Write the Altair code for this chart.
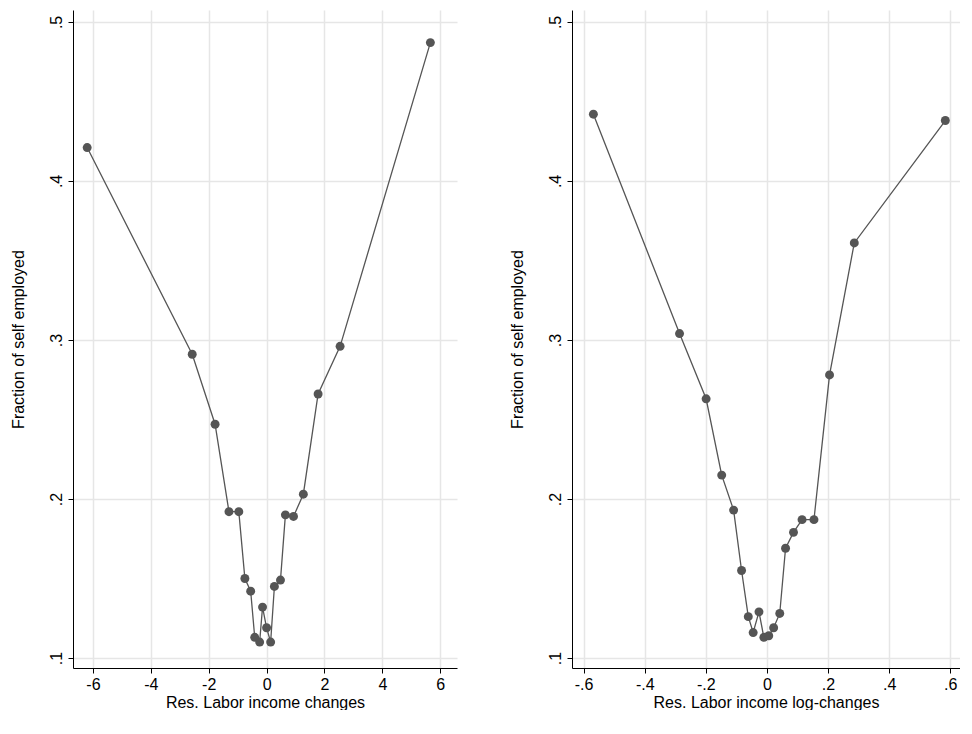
import altair as alt
import pandas as pd

x_lev = [-6.2, -2.57, -1.78, -1.30, -0.96, -0.75, -0.55, -0.41, -0.24, -0.14, 0.0,
         0.14, 0.27, 0.48, 0.65, 0.93, 1.27, 1.78, 2.54, 5.66]
y_lev = [0.421, 0.291, 0.247, 0.192, 0.192, 0.150, 0.142, 0.113, 0.110, 0.132, 0.119,
         0.110, 0.145, 0.149, 0.190, 0.189, 0.203, 0.266, 0.296, 0.487]

x_log = [-0.568, -0.286, -0.199, -0.148, -0.109, -0.083, -0.061, -0.045, -0.026, -0.010,
         0.006, 0.022, 0.042, 0.061, 0.087, 0.115, 0.154, 0.205, 0.286, 0.584]
y_log = [0.442, 0.304, 0.263, 0.215, 0.193, 0.155, 0.126, 0.116, 0.129, 0.113,
         0.114, 0.119, 0.128, 0.169, 0.179, 0.187, 0.187, 0.278, 0.361, 0.438]

grey = "#555555"
lbl = ("datum.value == 0 ? '0' : replace(replace(replace(datum.label, '\u2212', '-'), "
       "'-0.', '-.'), '0.', '.')")


def panel(xs, ys, title, dom, ticks, w):
    df = pd.DataFrame({"x": xs, "y": ys})
    xax = alt.Axis(values=ticks, labelExpr=lbl, grid=True, title=title)
    yax = alt.Axis(values=[0.1, 0.2, 0.3, 0.4, 0.5], labelExpr=lbl, labelAngle=-90,
                   labelAlign="center", labelBaseline="bottom", grid=True,
                   labelPadding=4, titlePadding=22, title="Fraction of self employed")
    base = alt.Chart(df).encode(
        x=alt.X("x:Q", scale=alt.Scale(domain=dom, nice=False, zero=False), axis=xax),
        y=alt.Y("y:Q", scale=alt.Scale(domain=[0.0937, 0.5075], nice=False, zero=False), axis=yax),
    )
    line = base.mark_line(color=grey, strokeWidth=1.3)
    pts = base.mark_circle(color=grey, opacity=1, size=80)
    return (line + pts).properties(width=w, height=658)


left = panel(x_lev, y_lev, "Res. Labor income changes", [-6.69, 6.58],
             [-6, -4, -2, 0, 2, 4, 6], 384)
right = panel(x_log, y_log, "Res. Labor income log-changes", [-0.638, 0.632],
              [-0.6, -0.4, -0.2, 0, 0.2, 0.4, 0.6], 388)

chart = alt.hconcat(left, right, spacing=52).properties(
    padding={"left": 2, "top": 2, "right": 0, "bottom": 0}
).configure_view(stroke=None).configure_axis(
    labelFont="Liberation Sans", titleFont="Liberation Sans",
    labelFontSize=16, titleFontSize=16, titleFontWeight="normal",
    labelColor="black", titleColor="black", domainColor="black",
    tickColor="black", gridColor="#e6e6e6", gridWidth=1.5, labelPadding=3,
    titlePadding=2
)

chart.save("out.html", embed_options={"renderer": "svg", "actions": False})
